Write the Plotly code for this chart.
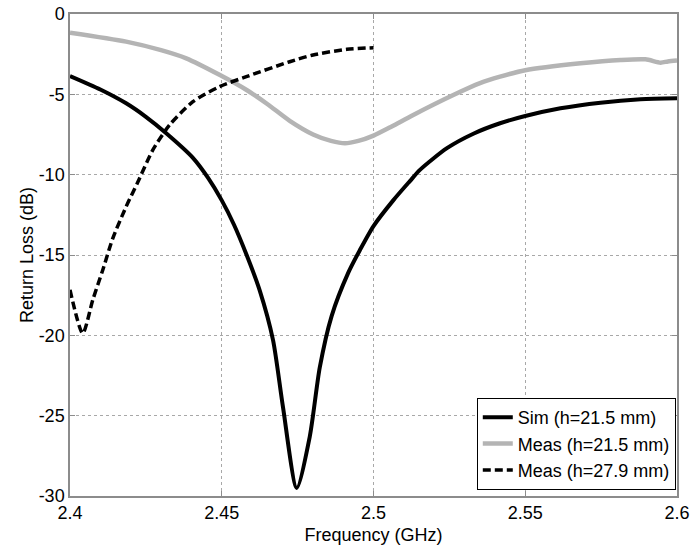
import plotly.graph_objects as go

# Sim (h=21.5 mm)
sim_f = [2.400, 2.410, 2.4185, 2.425, 2.4317, 2.4405, 2.4455, 2.4500, 2.4540, 2.4582,
         2.4625, 2.4669, 2.4702, 2.4747, 2.4790, 2.4823, 2.4862, 2.4917, 2.4955, 2.5000,
         2.5065, 2.5120, 2.5153, 2.5242, 2.5329, 2.5417, 2.5500, 2.5616, 2.5748, 2.5880, 2.6000]
sim_db = [-3.86, -4.7, -5.56, -6.4, -7.42, -8.95, -10.2, -11.6, -13.1, -15.0,
          -17.2, -20.3, -24.5, -29.5, -26.3, -22.0, -18.8, -16.1, -14.7, -13.2,
          -11.6, -10.4, -9.7, -8.35, -7.45, -6.8, -6.35, -5.87, -5.52, -5.31, -5.25]

# Meas (h=21.5 mm)
meas1_f = [2.400, 2.4185, 2.430, 2.4383, 2.4494, 2.4582, 2.4650, 2.4724, 2.4801, 2.4860,
           2.4906, 2.4950, 2.5000, 2.5060, 2.5131, 2.5263, 2.5351, 2.5417, 2.5500, 2.5682,
           2.5814, 2.5896, 2.5946, 2.5970, 2.6000]
meas1_db = [-1.16, -1.72, -2.25, -2.76, -3.8, -4.73, -5.6, -6.65, -7.5, -7.9,
            -8.05, -7.9, -7.57, -7.0, -6.28, -5.04, -4.3, -3.9, -3.5, -3.07,
            -2.86, -2.82, -3.03, -2.95, -2.9]

# Meas (h=27.9 mm)
meas2_f = [2.400, 2.4042, 2.4075, 2.4108, 2.4141, 2.4185, 2.4224, 2.4273, 2.4328, 2.4405,
           2.4493, 2.4581, 2.4724, 2.4801, 2.4912, 2.5000]
meas2_db = [-17.17, -19.87, -17.8, -15.93, -13.96, -11.99, -10.44, -8.46, -6.91, -5.46,
            -4.52, -3.9, -2.97, -2.55, -2.2, -2.1]

x_ticks = [2.4, 2.45, 2.5, 2.55, 2.6]
x_tick_labels = ["2.4", "2.45", "2.5", "2.55", "2.6"]
y_ticks = [0, -5, -10, -15, -20, -25, -30]
y_tick_labels = ["0", "-5", "-10", "-15", "-20", "-25", "-30"]

FONT = "Liberation Sans, Arial, Helvetica, sans-serif"

fig = go.Figure()
fig.add_trace(go.Scatter(x=sim_f, y=sim_db, mode="lines", name="Sim (h=21.5 mm)",
                         line=dict(color="black", width=4, shape="spline", smoothing=0.7)))
fig.add_trace(go.Scatter(x=meas1_f, y=meas1_db, mode="lines", name="Meas (h=21.5 mm)",
                         line=dict(color="#b4b4b4", width=4.5, shape="spline", smoothing=0.7)))
fig.add_trace(go.Scatter(x=meas2_f, y=meas2_db, mode="lines", name="Meas (h=27.9 mm)",
                         line=dict(color="black", width=3.5, dash="8px,4px",
                                   shape="spline", smoothing=0.7)))

axis_common = dict(
    showgrid=True, gridcolor="#a8a8a8", griddash="dot", gridwidth=1,
    showline=True, linecolor="#8c8c8c", linewidth=1.5, mirror="ticks",
    ticks="inside", ticklen=5, tickcolor="#8c8c8c", tickwidth=1,
    zeroline=False, automargin=False, ticklabeloverflow="allow",
    tickfont=dict(family=FONT, size=18, color="black"),
)

fig.update_xaxes(range=[2.4, 2.6], tickvals=x_ticks, ticktext=x_tick_labels,
                 title=dict(text="Frequency (GHz)", font=dict(family=FONT, size=18, color="black"),
                            standoff=6),
                 **axis_common)
fig.update_yaxes(range=[-30, 0], tickvals=y_ticks, ticktext=y_tick_labels,
                 title=dict(text="Return Loss (dB)", font=dict(family=FONT, size=18, color="black"),
                            standoff=0),
                 **axis_common)

fig.update_layout(
    template="none",
    width=692, height=551,
    margin=dict(l=70, r=15, t=14, b=55, autoexpand=False),
    plot_bgcolor="white", paper_bgcolor="white",
    font=dict(family=FONT, color="black"),
    legend=dict(x=0.998, y=0.0125, xanchor="right", yanchor="bottom",
                bgcolor="white", bordercolor="black", borderwidth=1,
                font=dict(family=FONT, size=18, color="black"),
                itemwidth=30, tracegroupgap=0),
    showlegend=True,
)

fig.write_html(
    "out.html",
    config={"displayModeBar": False},
    post_script="document.body.style.margin='0';document.body.style.overflow='hidden';",
)
